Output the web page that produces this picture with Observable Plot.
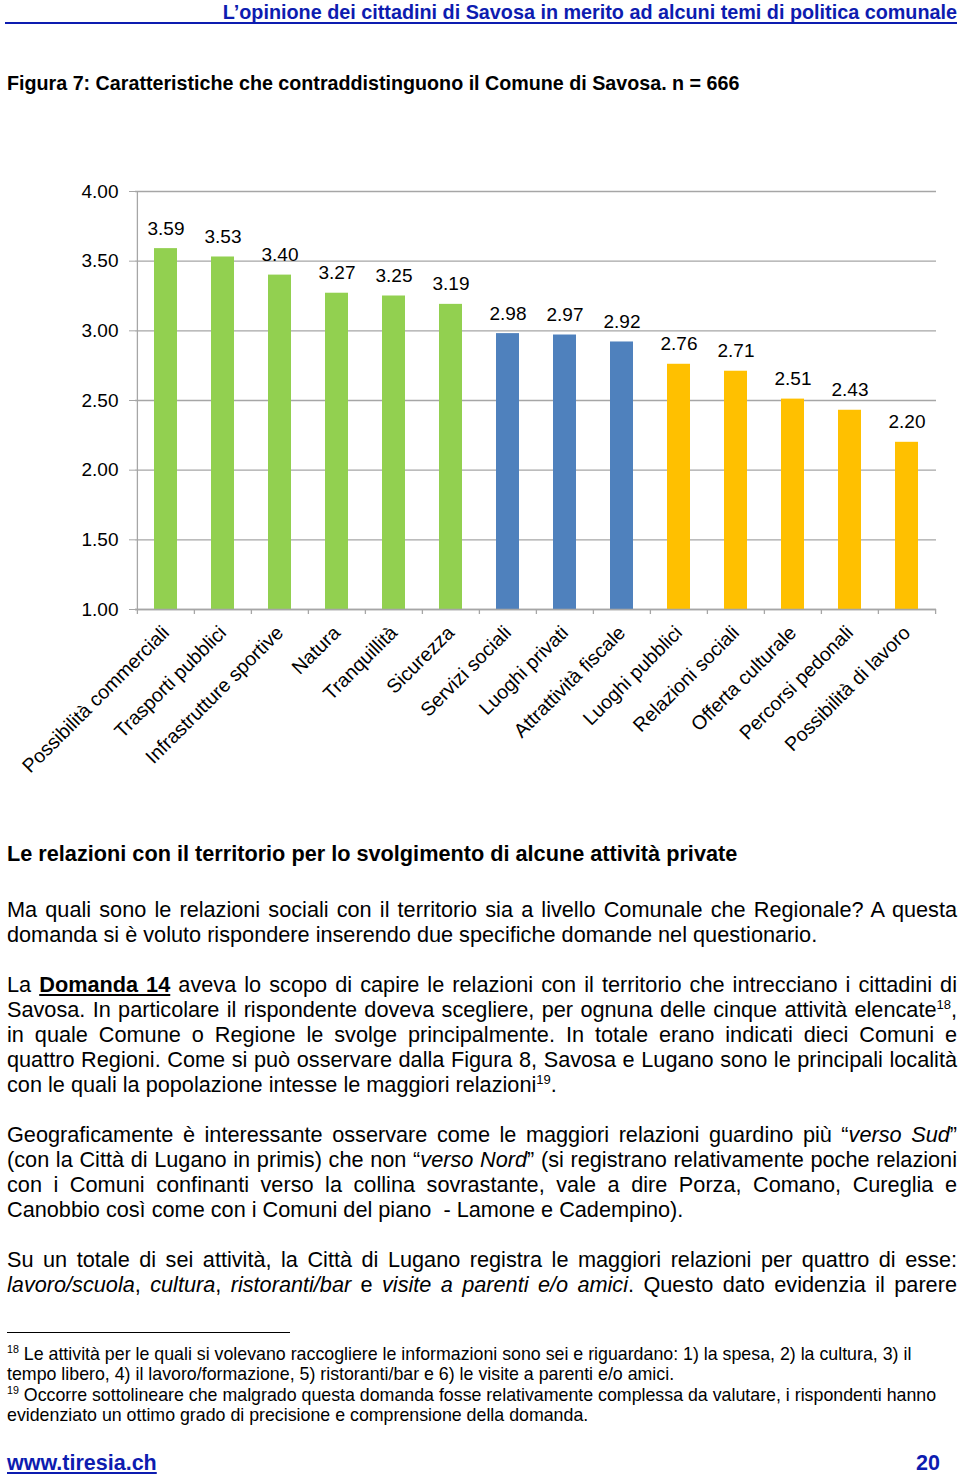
<!DOCTYPE html>
<html>
<head>
<meta charset="utf-8">
<script src="https://cdn.jsdelivr.net/npm/d3@7"></script>
<script src="https://cdn.jsdelivr.net/npm/@observablehq/plot@0.6"></script>
<style>
  html, body { margin: 0; padding: 0; background: #fff; }
  body { width: 960px; height: 1480px; position: relative; overflow: hidden;
         font-family: "Liberation Sans", Arial, sans-serif; color: #000; }
  .abs { position: absolute; }
  .hdr { left: 5px; width: 952px; top: 0px; height: 22px; line-height: 24px; text-align: right;
         font-weight: bold; font-size: 19.8px; color: #0d1cb0; border-bottom: 2px solid #0d1cb0; }
  .cap { left: 7px; font-weight: bold; font-size: 19.7px; line-height: 25px; white-space: nowrap; }
  .h2 { left: 7px; font-weight: bold; font-size: 21.7px; line-height: 25px; white-space: nowrap; }
  .line { left: 7px; width: 950px; font-size: 21.7px; line-height: 25px; }
  .j { text-align: justify; text-align-last: justify; }
  .l { text-align: left; white-space: nowrap; }
  sup { font-size: 0.6em; line-height: 0; vertical-align: 0.65em; }
  .fn { left: 7px; font-size: 17.8px; line-height: 20px; white-space: nowrap; }
  .sep { left: 7px; top: 1332px; width: 283px; height: 0; border-top: 1.5px solid #000; }
  .foot { top: 1451px; font-weight: bold; font-size: 21.5px; line-height: 25px; color: #0d1cb0; }
  #chart { left: 0; top: 170px; }
</style>
</head>
<body>
<div class="abs hdr">L’opinione dei cittadini di Savosa in merito ad alcuni temi di politica comunale</div>
<div class="abs cap" style="top:71px">Figura 7: Caratteristiche che contraddistinguono il Comune di Savosa. n = 666</div>
<div id="chart" class="abs"></div>

<div class="abs h2" style="top:841px">Le relazioni con il territorio per lo svolgimento di alcune attività private</div>

<div class="abs line j" style="top:897px">Ma quali sono le relazioni sociali con il territorio sia a livello Comunale che Regionale? A questa</div>
<div class="abs line l" style="top:922px">domanda si è voluto rispondere inserendo due specifiche domande nel questionario.</div>

<div class="abs line j" style="top:972px">La <b><u>Domanda 14</u></b> aveva lo scopo di capire le relazioni con il territorio che intrecciano i cittadini di</div>
<div class="abs line j" style="top:997px">Savosa. In particolare il rispondente doveva scegliere, per ognuna delle cinque attività elencate<sup>18</sup>,</div>
<div class="abs line j" style="top:1022px">in quale Comune o Regione le svolge principalmente. In totale erano indicati dieci Comuni e</div>
<div class="abs line j" style="top:1047px">quattro Regioni. Come si può osservare dalla Figura 8, Savosa e Lugano sono le principali località</div>
<div class="abs line l" style="top:1072px">con le quali la popolazione intesse le maggiori relazioni<sup>19</sup>.</div>

<div class="abs line j" style="top:1122px">Geograficamente è interessante osservare come le maggiori relazioni guardino più “<i>verso Sud</i>”</div>
<div class="abs line j" style="top:1147px">(con la Città di Lugano in primis) che non “<i>verso Nord</i>” (si registrano relativamente poche relazioni</div>
<div class="abs line j" style="top:1172px">con i Comuni confinanti verso la collina sovrastante, vale a dire Porza, Comano, Cureglia e</div>
<div class="abs line l" style="top:1197px">Canobbio così come con i Comuni del piano&nbsp; - Lamone e Cadempino).</div>

<div class="abs line j" style="top:1247px">Su un totale di sei attività, la Città di Lugano registra le maggiori relazioni per quattro di esse:</div>
<div class="abs line j" style="top:1272px"><i>lavoro/scuola</i>, <i>cultura</i>, <i>ristoranti/bar</i> e <i>visite a parenti e/o amici</i>. Questo dato evidenzia il parere</div>

<div class="abs sep"></div>
<div class="abs fn" style="top:1344px"><sup>18</sup> Le attività per le quali si volevano raccogliere le informazioni sono sei e riguardano: 1) la spesa, 2) la cultura, 3) il</div>
<div class="abs fn" style="top:1364px">tempo libero, 4) il lavoro/formazione, 5) ristoranti/bar e 6) le visite a parenti e/o amici.</div>
<div class="abs fn" style="top:1385px"><sup>19</sup> Occorre sottolineare che malgrado questa domanda fosse relativamente complessa da valutare, i rispondenti hanno</div>
<div class="abs fn" style="top:1405px">evidenziato un ottimo grado di precisione e comprensione della domanda.</div>

<div class="abs foot" style="left:7px"><u>www.tiresia.ch</u></div>
<div class="abs foot" style="right:20px">20</div>

<script>
const categories = ["Possibilità commerciali","Trasporti pubblici","Infrastrutture sportive","Natura","Tranquillità","Sicurezza","Servizi sociali","Luoghi privati","Attrattività fiscale","Luoghi pubblici","Relazioni sociali","Offerta culturale","Percorsi pedonali","Possibilità di lavoro"];
const values = [3.59, 3.53, 3.40, 3.27, 3.25, 3.19, 2.98, 2.97, 2.92, 2.76, 2.71, 2.51, 2.43, 2.20];
const groups = ["g1","g1","g1","g1","g1","g1","g2","g2","g2","g3","g3","g3","g3","g3"];
const groupNames = ["g1","g2","g3"];
const groupColors = ["#92D050","#4F81BD","#FFC000"];
const yTicks = [1.0, 1.5, 2.0, 2.5, 3.0, 3.5, 4.0];
const yBase = 1.0;

const data = categories.map((c, i) => ({cat: c, value: values[i], group: groups[i]}));

const W = 960, H = 630, mL = 135, mR = 24, mT = 21, mB = 191;
const step = (W - mL - mR) / categories.length;
const gray = "#a6a6a6";

const chart = Plot.plot({
  width: W, height: H,
  marginLeft: mL, marginRight: mR, marginTop: mT, marginBottom: mB,
  style: {fontFamily: "Liberation Sans, Arial, sans-serif", fontSize: "19px", background: "white", color: "black", overflow: "visible"},
  x: {domain: categories, paddingInner: 0.6, paddingOuter: 0.3},
  y: {domain: [yBase, 4]},
  color: {domain: groupNames, range: groupColors},
  marks: [
    Plot.gridY(yTicks, {stroke: gray, strokeOpacity: 1, strokeWidth: 1.3}),
    Plot.axisY(yTicks, {tickFormat: d3.format(".2f"), tickSize: 6, tickPadding: 11, stroke: gray, fill: "black", fontSize: 19, label: null}),
    Plot.barY(data, {x: "cat", y1: yBase, y2: "value", fill: "group"}),
    Plot.text(data, {x: "cat", y: "value", text: d => d3.format(".2f")(d.value), dy: -20, fill: "black", fontSize: 19}),
    Plot.ruleY([yBase], {stroke: gray, strokeWidth: 1.3}),
    Plot.ruleX([categories[0]], {dx: -step / 2, stroke: gray, strokeWidth: 1.3}),
    Plot.ruleX(categories, {x: d => d, y1: yBase, y2: yBase, insetTop: 5, dx: -step / 2, stroke: gray, strokeWidth: 1.3}),
    Plot.ruleX([categories[categories.length - 1]], {y1: yBase, y2: yBase, insetTop: 5, dx: step / 2, stroke: gray, strokeWidth: 1.3}),
    Plot.axisX({tickRotate: -45, tickSize: 0, tickPadding: 20, fontSize: 19.6, fill: "black", label: null})
  ]
});
document.getElementById("chart").appendChild(chart);
</script>
</body>
</html>
